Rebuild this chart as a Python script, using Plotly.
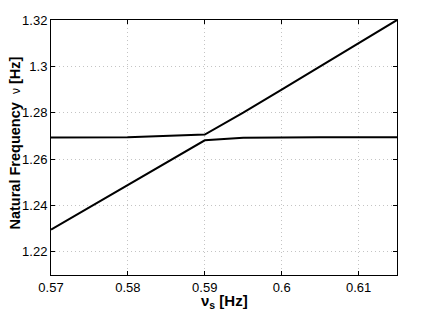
import plotly.graph_objects as go

# driving frequency nu_s [Hz]
nu_s = [0.57, 0.58, 0.59, 0.595, 0.60, 0.605, 0.61, 0.615]

# two natural frequency branches [Hz]
branch_low = [1.2296, 1.2490, 1.2681, 1.2692, 1.2694, 1.2694, 1.2694, 1.2694]
branch_high = [1.2693, 1.2694, 1.2706, 1.2800, 1.2900, 1.3000, 1.3100, 1.3200]

xticks = [0.57, 0.58, 0.59, 0.60, 0.61]
xtick_text = ["0.57", "0.58", "0.59", "0.6", "0.61"]
yticks = [1.22, 1.24, 1.26, 1.28, 1.30, 1.32]
ytick_text = ["1.22", "1.24", "1.26", "1.28", "1.3", "1.32"]

font = "Liberation Sans, Arial, sans-serif"
# page body has an 8px margin, so the figure is shrunk by that much
W, H = 435, 304
L, R, T, B = 43, 46, 12, 37

fig = go.Figure()
for ys in (branch_low, branch_high):
    fig.add_trace(go.Scatter(x=nu_s, y=ys, mode="lines",
                             line=dict(color="black", width=2), showlegend=False))

axis_common = dict(showline=True, linecolor="black", linewidth=1, mirror="ticks",
                   ticks="inside", ticklen=4, tickcolor="black", automargin=False,
                   showgrid=True, gridcolor="#c4c4c4", griddash="1px,3px", gridwidth=1,
                   zeroline=False, tickfont=dict(family=font, size=13, color="black"))

fig.update_xaxes(range=[0.57, 0.615], tickvals=xticks, ticktext=xtick_text, **axis_common)
fig.update_yaxes(range=[1.21, 1.32], tickvals=yticks, ticktext=ytick_text, **axis_common)

# axis titles placed by pixel offset from the plot area
fig.add_annotation(text="<b>ν<sub>s</sub> [Hz]</b>", xref="paper", yref="paper",
                   x=(216 - L) / (W - L - R), y=0, yshift=-15, yanchor="top",
                   showarrow=False, font=dict(family=font, size=15, color="black"))
fig.add_annotation(text="<b>Natural Frequency</b>  <span style='font-weight:normal;font-size:12px'>ν</span> <b>[Hz]</b>",
                   xref="paper", yref="paper", x=0, xshift=-37, y=(H - B - 135.5) / (H - T - B),
                   textangle=-90, showarrow=False, xanchor="center", yanchor="middle",
                   font=dict(family=font, size=14.5, color="black"))

fig.update_layout(width=W, height=H, plot_bgcolor="white", paper_bgcolor="white",
                  margin=dict(l=L, r=R, t=T, b=B))

fig.write_html("out.html")
